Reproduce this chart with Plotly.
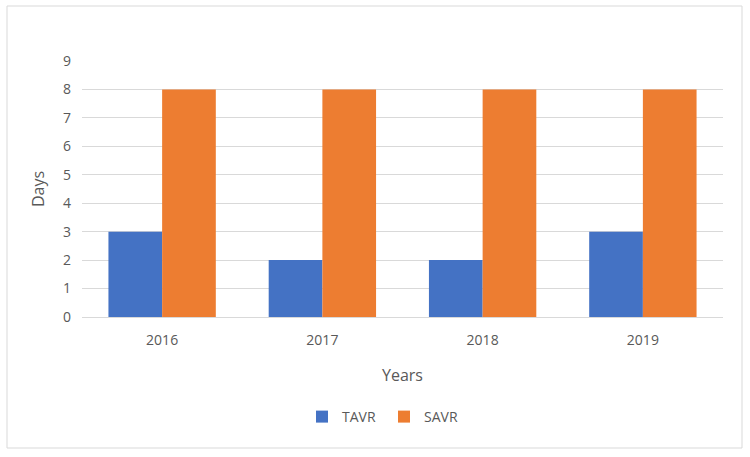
import plotly.graph_objects as go

years = ["2016", "2017", "2018", "2019"]
tavr = [3, 2, 2, 3]
savr = [8, 8, 8, 8]
y_ticks = [0, 1, 2, 3, 4, 5, 6, 7, 8, 9]

W, H = 750, 457
L, R, T, B = 82, 27, 61, 140
pw, ph = W - L - R, H - T - B

def px_x(x):
    return (x - L) / pw

def px_y(y):
    return (H - B - y) / ph

font = "Open Sans, Segoe UI, sans-serif"
grey = "#595959"

fig = go.Figure()
fig.add_trace(go.Bar(x=years, y=tavr, name="TAVR", marker=dict(color="#4472C4", line=dict(width=0))))
fig.add_trace(go.Bar(x=years, y=savr, name="SAVR", marker=dict(color="#ED7D31", line=dict(width=0))))

fig.update_layout(
    width=W, height=H,
    margin=dict(l=L, r=R, t=T, b=B),
    paper_bgcolor="white", plot_bgcolor="white",
    barmode="group", bargap=0.33, bargroupgap=0,
    font=dict(family=font, color=grey, size=14),
    showlegend=True,
    legend=dict(orientation="h", x=px_x(302), xanchor="left", y=px_y(417), yanchor="middle",
                font=dict(size=14, color=grey), itemwidth=30, entrywidth=37, entrywidthmode="pixels",
                traceorder="normal"),
    xaxis=dict(
        title=dict(text="Years", font=dict(size=16, color=grey), standoff=22),
        showgrid=False, showline=True, linecolor="#D9D9D9", linewidth=1,
        ticks="", tickfont=dict(size=14, color=grey), ticklabelstandoff=10,
    ),
    yaxis=dict(
        title=dict(text="Days", font=dict(size=16, color=grey), standoff=14),
        range=[0, 9], tickvals=y_ticks, showgrid=True, gridcolor="#D9D9D9", gridwidth=1,
        zeroline=False, showline=False, ticks="", tickfont=dict(size=14, color=grey),
        ticklabelstandoff=10,
    ),
    shapes=[dict(type="rect", xref="paper", yref="paper",
                 x0=px_x(7), x1=px_x(742), y0=px_y(448), y1=px_y(6),
                 line=dict(color="#D9D9D9", width=1), fillcolor="rgba(0,0,0,0)", layer="below")],
)

fig.write_html("out.html")
